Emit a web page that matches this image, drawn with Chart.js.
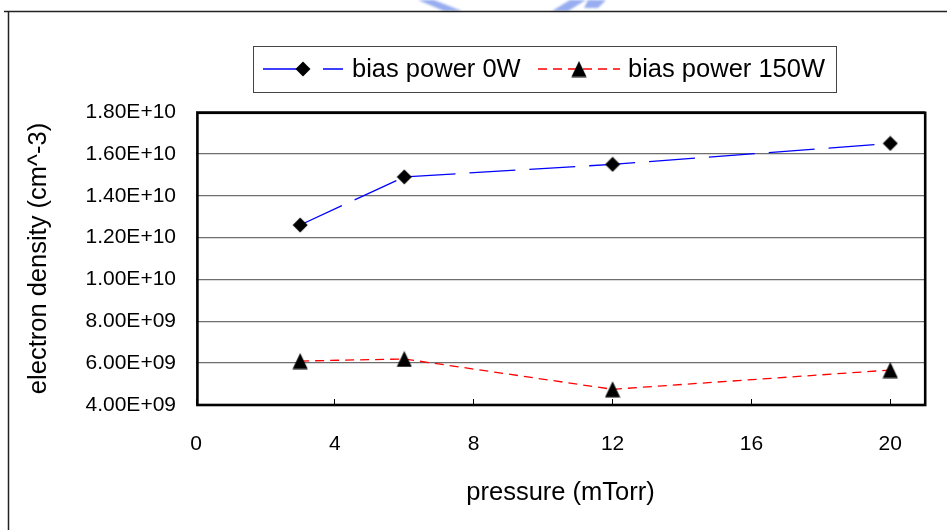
<!DOCTYPE html>
<html>
<head>
<meta charset="utf-8">
<script src="https://cdn.jsdelivr.net/npm/chart.js@4/dist/chart.umd.min.js"></script>
<style>
  html, body { margin: 0; padding: 0; background: #fff; }
  #wrap { width: 947px; height: 530px; position: relative; }
</style>
</head>
<body>
<div id="wrap"><canvas id="c" width="947" height="530"></canvas></div>
<script>
// Electron density vs. chamber pressure for two bias powers
const pressure = [3, 6, 12, 20];                          // mTorr
const density0W = [1.26e10, 1.49e10, 1.55e10, 1.65e10];   // cm^-3
const density150W = [6.1e9, 6.2e9, 4.75e9, 5.67e9];       // cm^-3
const seriesNames = ['bias power 0W', 'bias power 150W'];

const xTickValues = [0, 4, 8, 12, 16, 20];
const yTickValues = [4e9, 6e9, 8e9, 1e10, 1.2e10, 1.4e10, 1.6e10, 1.8e10];
const yTickLabels = ['4.00E+09', '6.00E+09', '8.00E+09', '1.00E+10',
                     '1.20E+10', '1.40E+10', '1.60E+10', '1.80E+10'];

const FONT = '"Liberation Sans", Arial, sans-serif';

// Marker sprites
function makeMarker(w, h, pts) {
  const cv = document.createElement('canvas');
  cv.width = w; cv.height = h;
  const g = cv.getContext('2d');
  g.fillStyle = '#000';
  g.beginPath();
  pts.forEach((p, i) => i ? g.lineTo(p[0], p[1]) : g.moveTo(p[0], p[1]));
  g.closePath();
  g.fill();
  return cv;
}
const diamond = makeMarker(16, 16, [[8, 0.5], [15.5, 8], [8, 15.5], [0.5, 8]]);
const triangle = makeMarker(16, 17, [[8, 0.5], [15.6, 16.5], [0.4, 16.5]]);

// Page frame, faint header logo and the plot box
const decor = {
  id: 'decor',
  beforeDraw(chart) {
    const ctx = chart.ctx;
    ctx.save();
    ctx.fillStyle = '#fff';
    ctx.fillRect(0, 0, chart.width, chart.height);

    ctx.filter = 'blur(1.2px)';
    ctx.fillStyle = 'rgba(125,152,236,0.8)';
    ctx.beginPath();
    ctx.moveTo(418, 0); ctx.lineTo(434, 0); ctx.lineTo(462, 11); ctx.lineTo(444, 11); ctx.closePath();
    ctx.fill();
    ctx.beginPath();
    ctx.moveTo(552, 11); ctx.lineTo(568, 11); ctx.lineTo(586, 0); ctx.lineTo(570, 0); ctx.closePath();
    ctx.fill();
    ctx.beginPath();
    ctx.moveTo(588, 0); ctx.lineTo(606, 0); ctx.lineTo(598, 8); ctx.lineTo(584, 8); ctx.closePath();
    ctx.fill();
    ctx.filter = 'none';

    ctx.strokeStyle = '#222';
    ctx.lineWidth = 1.5;
    ctx.beginPath();
    ctx.moveTo(4, 11.5); ctx.lineTo(chart.width, 11.5);
    ctx.moveTo(8.5, 11); ctx.lineTo(8.5, chart.height);
    ctx.stroke();
    ctx.restore();
  },
  afterDraw(chart) {
    const a = chart.chartArea;
    const ctx = chart.ctx;
    ctx.save();
    ctx.strokeStyle = '#000';
    ctx.lineWidth = 2.6;
    ctx.strokeRect(a.left + 1.4, a.top + 0.8, a.right - a.left - 1.2, a.bottom - a.top - 0.8);
    ctx.restore();
  }
};

// Boxed legend: line sample with its marker, then the series name
const boxLegend = {
  id: 'boxLegend',
  afterDraw(chart) {
    const ctx = chart.ctx;
    const box = { x: 253, y: 46, w: 583, h: 46 };
    const cy = box.y + box.h / 2;
    const items = [
      { x0: 263, x1: 343, mx: 303, tx: 352 },
      { x0: 538, x1: 620, mx: 579, tx: 628 }
    ];
    ctx.save();
    ctx.fillStyle = '#fff';
    ctx.fillRect(box.x, box.y, box.w, box.h);
    ctx.strokeStyle = '#444';
    ctx.lineWidth = 1;
    ctx.strokeRect(box.x + 0.5, box.y + 0.5, box.w, box.h);
    chart.data.datasets.forEach((ds, i) => {
      const it = items[i];
      ctx.strokeStyle = ds.borderColor;
      ctx.lineWidth = ds.borderWidth;
      ctx.setLineDash(ds.borderDash || []);
      ctx.beginPath();
      ctx.moveTo(it.x0, cy);
      ctx.lineTo(it.x1, cy);
      ctx.stroke();
      ctx.setLineDash([]);
      const m = ds.pointStyle;
      ctx.drawImage(m, it.mx - m.width / 2, cy - m.height / 2);
      ctx.fillStyle = '#000';
      ctx.font = '25.5px ' + FONT;
      ctx.textAlign = 'left';
      ctx.textBaseline = 'middle';
      ctx.fillText(ds.label, it.tx, cy + 1);
    });
    ctx.restore();
  }
};

new Chart(document.getElementById('c'), {
  type: 'line',
  data: {
    datasets: [
      {
        label: seriesNames[0],
        data: pressure.map((p, i) => ({ x: p, y: density0W[i] })),
        borderColor: '#0000ff',
        borderWidth: 1.3,
        borderDash: [46, 14],
        pointStyle: diamond,
        pointRadius: 8,
        tension: 0,
        fill: false
      },
      {
        label: seriesNames[1],
        data: pressure.map((p, i) => ({ x: p, y: density150W[i] })),
        borderColor: '#ff0000',
        borderWidth: 1.3,
        borderDash: [9, 6],
        pointStyle: triangle,
        pointRadius: 8,
        tension: 0,
        fill: false
      }
    ]
  },
  options: {
    responsive: false,
    animation: false,
    devicePixelRatio: 1,
    clip: false,
    layout: { padding: { top: 112, right: 22, left: 0, bottom: 0 } },
    plugins: {
      legend: { display: false },
      title: { display: false },
      tooltip: { enabled: false }
    },
    scales: {
      x: {
        type: 'linear',
        min: 0,
        max: 21,
        afterBuildTicks: s => { s.ticks = xTickValues.map(v => ({ value: v })); },
        afterFit: s => { s.height = 125; },
        grid: { drawOnChartArea: false, drawTicks: true, tickLength: -6, color: '#000', lineWidth: 1 },
        border: { display: false },
        ticks: { color: '#000', font: { family: FONT, size: 21 }, padding: 33, maxRotation: 0 },
        title: {
          display: true,
          text: 'pressure (mTorr)',
          color: '#000',
          font: { family: FONT, size: 25.5 },
          padding: { top: 0, bottom: 22 }
        }
      },
      y: {
        type: 'linear',
        min: 4e9,
        max: 1.8e10,
        afterBuildTicks: s => { s.ticks = yTickValues.map(v => ({ value: v })); },
        afterFit: s => { s.width = 196; },
        grid: { color: '#6e6e6e', lineWidth: 1.3, drawTicks: false },
        border: { display: false },
        ticks: {
          color: '#000',
          font: { family: FONT, size: 21 },
          padding: 20,
          callback: (v, i) => yTickLabels[i]
        },
        title: {
          display: true,
          text: 'electron density (cm^-3)',
          color: '#000',
          font: { family: FONT, size: 25.5 },
          padding: { top: 24, bottom: 0 }
        }
      }
    }
  },
  plugins: [decor, boxLegend]
});
</script>
</body>
</html>
